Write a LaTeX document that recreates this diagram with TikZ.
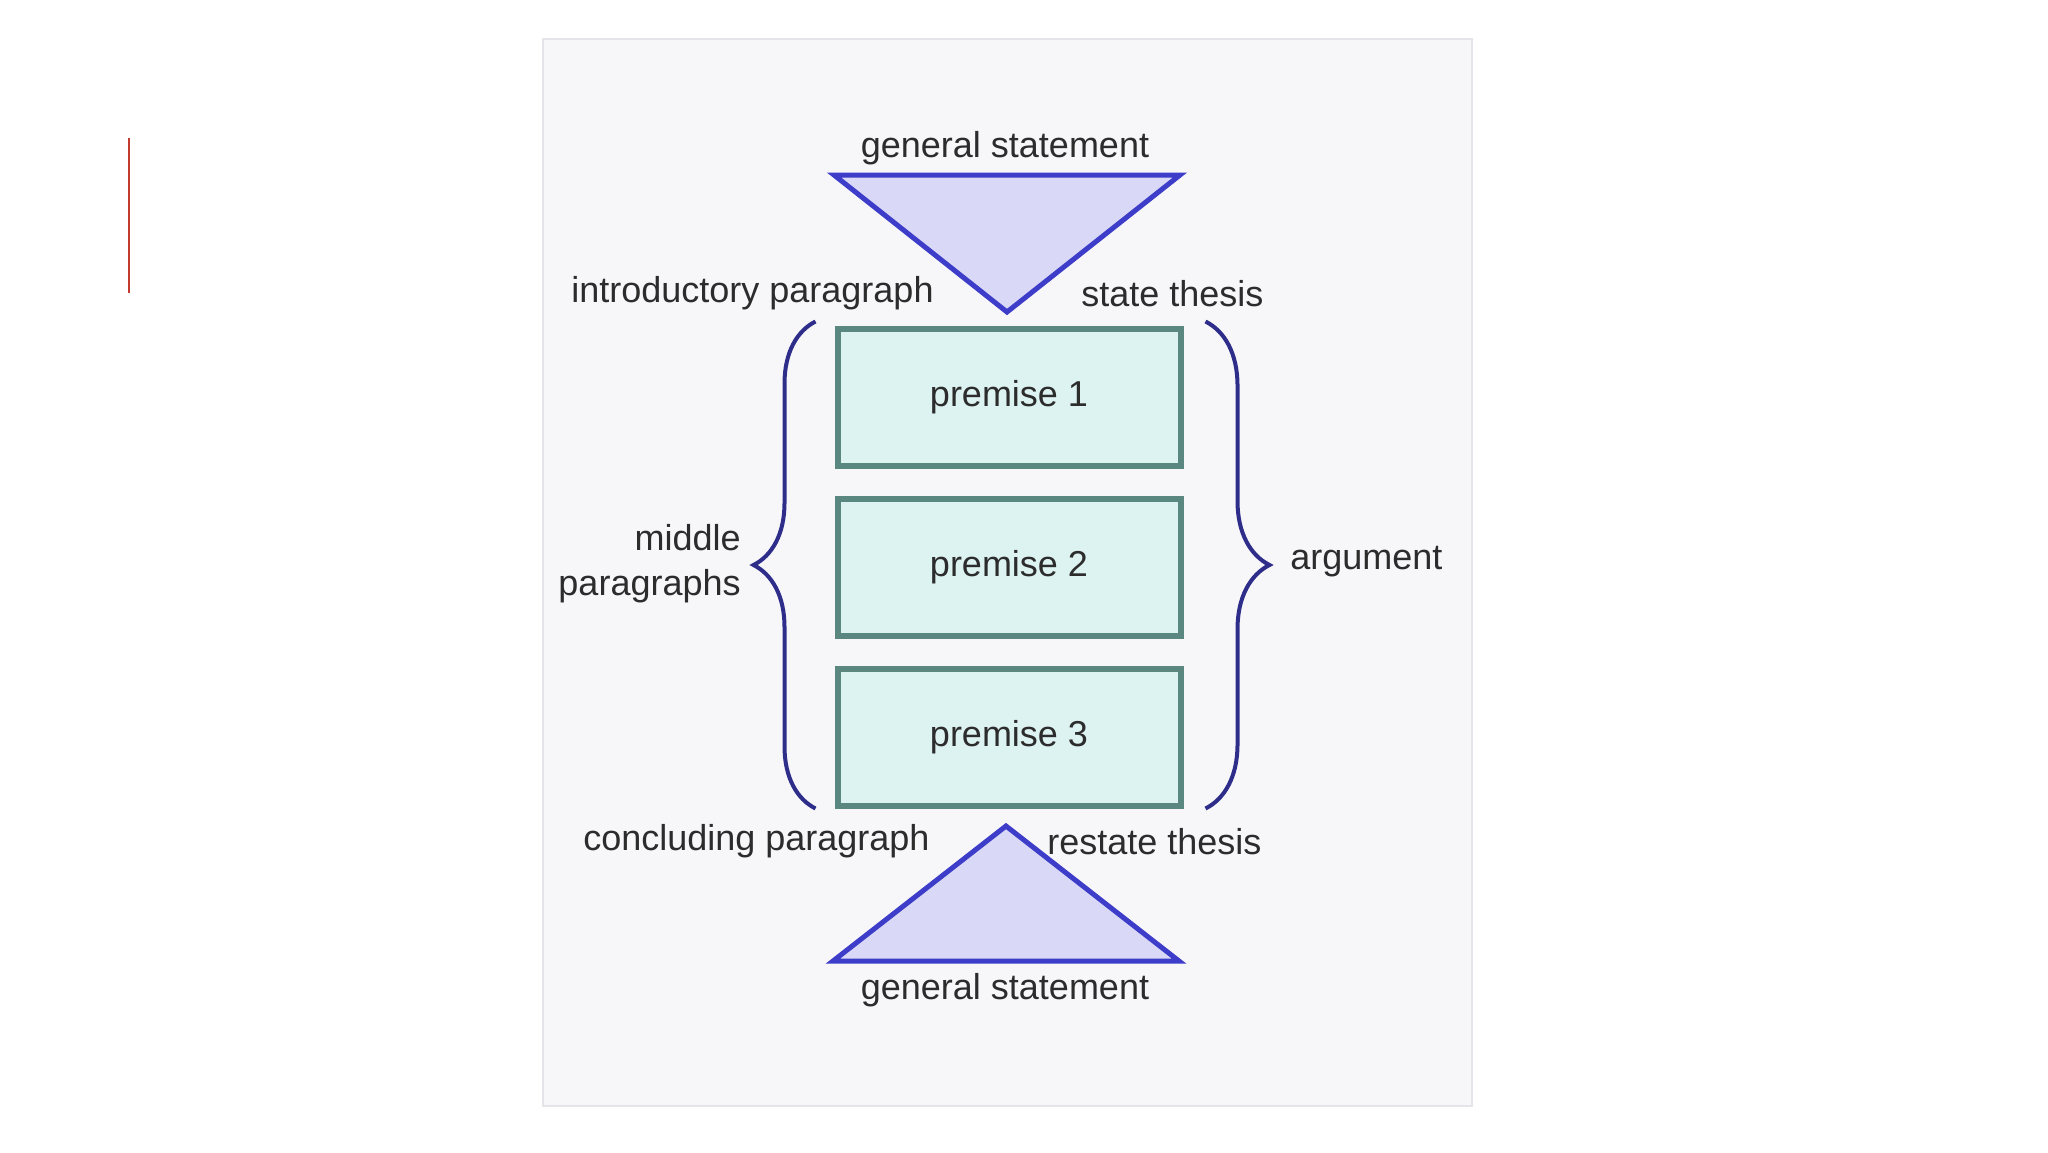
\documentclass[tikz,border=0pt]{standalone}
\usepackage{fontspec}
\setmainfont{Liberation Sans}
\usetikzlibrary{positioning}
\usetikzlibrary{calc}
\usetikzlibrary{decorations.pathreplacing}
\definecolor{panel-bg}{HTML}{F7F7FA}
\definecolor{panel-edge}{HTML}{E4E4EA}
\definecolor{slide-red}{HTML}{C23B2E}
\definecolor{tri-fill}{HTML}{D9D9F7}
\definecolor{tri-edge}{HTML}{3D3DC9}
\definecolor{box-fill}{HTML}{DDF3F2}
\definecolor{box-edge}{HTML}{5A8880}
\definecolor{brace-col}{HTML}{2E2E8A}
\definecolor{label-col}{HTML}{2C2C2C}
\colorlet{ink}{label-col}
\tikzset{
  premise/.style={draw=box-edge,fill=box-fill,line width=3pt,minimum width=171.5pt,minimum height=68.5pt,text=ink,font=\fontsize{18}{22}\selectfont},
  lbl/.style={text=ink,font=\fontsize{18}{22.5}\selectfont,inner sep=0pt},
  funnel/.style={draw=tri-edge,fill=tri-fill,line width=2.5pt,line join=miter},
  curly/.style={draw=brace-col,line width=2pt,decorate,decoration={brace,amplitude=#1}},
}
% triangle: centre x, half width, base y, apex y
\newcommand{\tikzfunnel}[4]{%
\draw[funnel] (#1-#2,#3) -- (#1+#2,#3) -- (#1,#4) -- cycle;
}

\begin{document}
\begin{tikzpicture}[x=0.5pt,y=-0.5pt]
\fill[white] (0,0) rectangle (2048,1152);
\useasboundingbox (0,0) rectangle (2048,1152);
% slide accent
\draw[slide-red,line width=1.2pt] (129,138) -- (129,293);
% picture panel
\draw[draw=panel-edge,fill=panel-bg,line width=1pt] (543,39) rectangle (1472,1106);
% introduction
\tikzfunnel{1007}{173}{175}{312}
\node[lbl] (gs-top) at (1005,148) {general statement};
\node[lbl,anchor=east] (intro) at (934,293) {introductory paragraph};
\node[lbl,anchor=west] (thesis) at (1081,294) {state thesis};
% body
\node[premise] (p1) at (1009,397) {premise 1};
\node[premise,below=13.5pt of p1] (p2) {premise 2};
\node[premise,below=13.5pt of p2] (p3) {premise 3};
\draw[curly=31pt] ($(p3.south west)+(-19,0)$) -- ($(p1.north west)+(-19,-4)$);
\draw[curly=32pt] ($(p1.north east)+(22,-4)$) -- ($(p3.south east)+(22,0)$);
\node[lbl,anchor=east,align=right] (middle) at (741,564) {middle\\paragraphs};
\node[lbl,anchor=west] (arg) at (1290,562) {argument};
% conclusion
\tikzfunnel{1006}{173}{961}{826}
\node[lbl,anchor=east] (concl) at (930,841) {concluding paragraph};
\node[lbl,anchor=west] (restate) at (1047,842) {restate thesis};
\node[lbl] (gs-bot) at (1005,990) {general statement};
\end{tikzpicture}
\end{document}
